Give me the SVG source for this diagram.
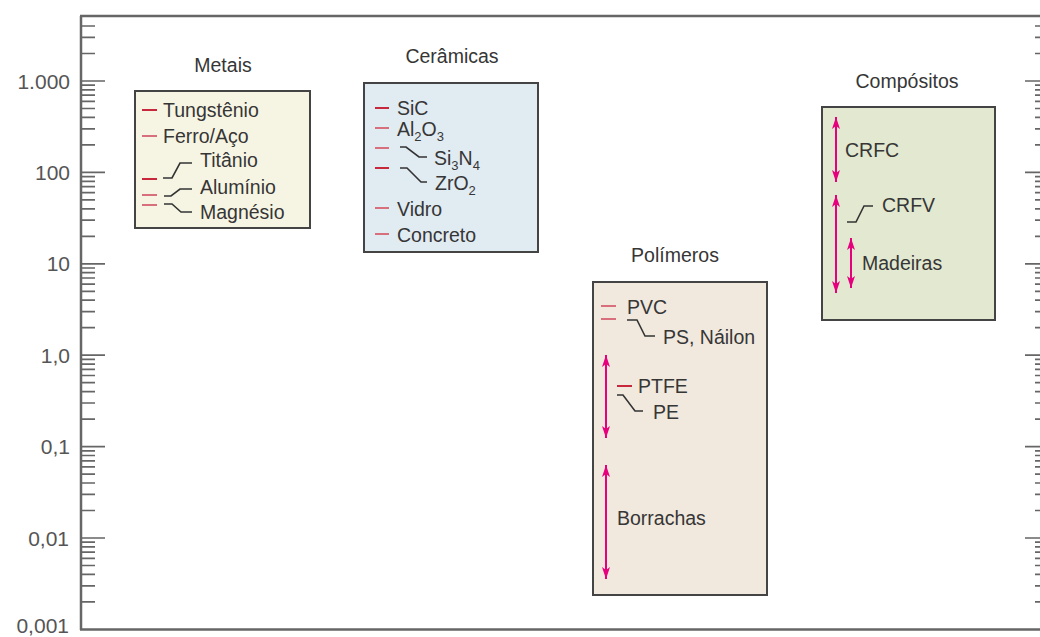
<svg xmlns="http://www.w3.org/2000/svg" width="1040" height="637" viewBox="0 0 1040 637">
<style>
.t{font-family:"Liberation Sans",Arial,sans-serif;font-size:19.5px;fill:#363636}
.h{font-family:"Liberation Sans",Arial,sans-serif;font-size:19.5px;fill:#363636;text-anchor:middle}
.ax{font-family:"Liberation Sans",Arial,sans-serif;font-size:21px;fill:#555;text-anchor:end}
.axis{stroke:#666;stroke-width:2.5;fill:none}
.tick{stroke:#666;stroke-width:1.7;fill:none}
.box{stroke:#444;stroke-width:2}
.d1{stroke:#c8283c;stroke-width:2}
.d2{stroke:#d7707c;stroke-width:2}
.ld{stroke:#333;stroke-width:1.6;fill:none}
.ar{stroke:#e6007e;stroke-width:2;fill:none;marker-start:url(#ah);marker-end:url(#ah)}
</style>
<defs>
<marker id="ah" viewBox="0 0 12 8" refX="12" refY="4" markerWidth="12" markerHeight="8" markerUnits="userSpaceOnUse" orient="auto-start-reverse">
<path d="M0,0 L12,4 L0,8 L3,4 z" fill="#e6007e"/>
</marker>
<path id="decL" class="tick" d="M81,-27.5H95M81,-43.6H95M81,-55H95M81,-63.9H95M81,-71.1H95M81,-77.2H95M81,-82.5H95M81,-87.2H95"/>
<path id="decR" class="tick" d="M1035,-27.5H1040M1035,-43.6H1040M1035,-55H1040M1035,-63.9H1040M1035,-71.1H1040M1035,-77.2H1040M1035,-82.5H1040M1035,-87.2H1040"/>
</defs>

<g id="axes">
<path class="axis" d="M81,16V630M80,16H1040"/>
<path class="axis" d="M80,629.5H1040" stroke-width="3"/>
<path class="tick" d="M81,81H105M81,172.4H105M81,263.8H105M81,355.2H105M81,446.6H105M81,538H105"/>
<path class="tick" d="M1025,81H1040M1025,172.4H1040M1025,263.8H1040M1025,355.2H1040M1025,446.6H1040M1025,538H1040"/>
<path class="tick" d="M81,53.5H95M81,37.4H95M81,26H95M1035,53.5H1040M1035,37.4H1040M1035,26H1040"/>
<use href="#decL" y="629.4"/><use href="#decL" y="538"/><use href="#decL" y="446.6"/><use href="#decL" y="355.2"/><use href="#decL" y="263.8"/><use href="#decL" y="172.4"/>
<use href="#decR" y="629.4"/><use href="#decR" y="538"/><use href="#decR" y="446.6"/><use href="#decR" y="355.2"/><use href="#decR" y="263.8"/><use href="#decR" y="172.4"/>
<text class="ax" x="70" y="88.5">1.000</text>
<text class="ax" x="70" y="180">100</text>
<text class="ax" x="70" y="271">10</text>
<text class="ax" x="70" y="362.5">1,0</text>
<text class="ax" x="70" y="454">0,1</text>
<text class="ax" x="69" y="545.5">0,01</text>
<text class="ax" x="69" y="633">0,001</text>
</g>

<g id="metais">
<text class="h" x="223" y="72">Metais</text>
<rect class="box" x="135" y="91" width="175" height="137" fill="#f6f5e4"/>
<path class="d1" d="M142,110H157"/>
<path class="d2" d="M142,136H157"/>
<path class="d1" d="M142,179H157"/>
<path class="d2" d="M142,195H157M142,205H157"/>
<path class="ld" d="M163,178H172L180,163H192"/>
<path class="ld" d="M164,196H171L180,189H192"/>
<path class="ld" d="M164,204H172L181,212H192"/>
<text class="t" x="163" y="117">Tungstênio</text>
<text class="t" x="163" y="143">Ferro/Aço</text>
<text class="t" x="200" y="167">Titânio</text>
<text class="t" x="200" y="194">Alumínio</text>
<text class="t" x="200" y="219">Magnésio</text>
</g>

<g id="ceramicas">
<text class="h" x="452" y="63">Cerâmicas</text>
<rect class="box" x="364" y="83" width="174" height="169" fill="#e1ebf2"/>
<path class="d1" d="M375,108H389"/>
<path class="d2" d="M375,128H389M375,148H389"/>
<path class="d1" d="M375,168H389"/>
<path class="d2" d="M375,208H389M375,234H389"/>
<path class="ld" d="M400,147H406L419,157H427"/>
<path class="ld" d="M400,168H407L421,182H427"/>
<text class="t" x="397" y="115">SiC</text>
<text class="t" x="397" y="136">Al<tspan font-size="13" dy="5">2</tspan><tspan dy="-5">O</tspan><tspan font-size="13" dy="5">3</tspan></text>
<text class="t" x="434" y="165">Si<tspan font-size="13" dy="5">3</tspan><tspan dy="-5">N</tspan><tspan font-size="13" dy="5">4</tspan></text>
<text class="t" x="435" y="190">ZrO<tspan font-size="13" dy="5">2</tspan></text>
<text class="t" x="397" y="216">Vidro</text>
<text class="t" x="397" y="242">Concreto</text>
</g>

<g id="polimeros">
<text class="h" x="675" y="262">Polímeros</text>
<rect class="box" x="593" y="282" width="174" height="313" fill="#f1e8de"/>
<path class="d2" d="M601,306H616M601,319H616"/>
<path class="d1" d="M617,386H632"/>
<path class="ld" d="M627,320H637L645,336H655"/>
<path class="ld" d="M617,395H623L635,411H643"/>
<text class="t" x="627" y="314">PVC</text>
<text class="t" x="663" y="344">PS, Náilon</text>
<text class="t" x="638" y="393">PTFE</text>
<text class="t" x="653" y="419">PE</text>
<text class="t" x="617" y="525">Borrachas</text>
</g>

<g id="compositos">
<text class="h" x="907" y="88">Compósitos</text>
<rect class="box" x="822" y="107" width="173" height="213" fill="#e3e8d0"/>
<path class="ld" d="M847,222H856L864,206H873"/>
<text class="t" x="845" y="157">CRFC</text>
<text class="t" x="882" y="212">CRFV</text>
<text class="t" x="862" y="270">Madeiras</text>
</g>

<g id="connectors">
<path class="ar" d="M606,355V438"/>
<path class="ar" d="M606,465V579"/>
<path class="ar" d="M836,117V182"/>
<path class="ar" d="M836,195V293"/>
<path class="ar" d="M851,238V288"/>
</g>
</svg>
